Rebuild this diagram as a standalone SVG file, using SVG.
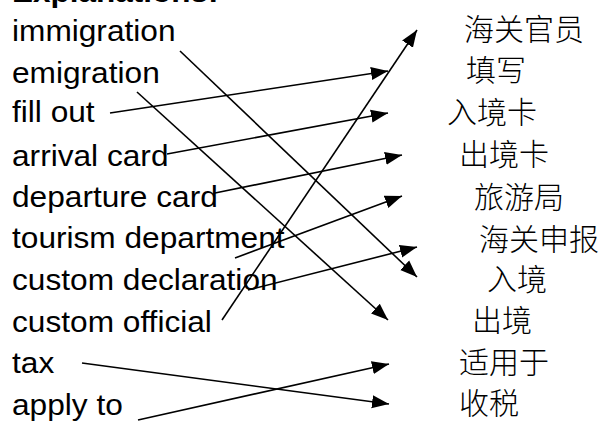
<svg xmlns="http://www.w3.org/2000/svg" width="608" height="421" viewBox="0 0 608 421">
<style>
.en{font-family:"Liberation Sans",Arial,sans-serif;font-size:30px;fill:#000}
.zh{font-family:"Noto Sans CJK SC",sans-serif;font-size:30px;font-weight:300;fill:#000}
.ttl{font-family:"Liberation Sans",Arial,sans-serif;font-size:30px;font-weight:bold;fill:#000}
.c line{stroke:#000;stroke-width:1.6;fill:none}
</style>
<defs>
<marker id="ah" markerUnits="userSpaceOnUse" markerWidth="18" markerHeight="14" refX="17" refY="7" orient="auto">
<path d="M0,0.5 L17,7 L0,13.5 z" fill="#000"/>
</marker>
</defs>
<rect width="608" height="421" fill="#fff"/>
<text class="ttl" x="12" y="2" transform="translate(12,0) scale(1.05,1) translate(-12,0)">Explanations:</text>
<g id="left" transform="translate(12,0) scale(1.055,1)">
<g id="n-immigration"><text class="en" x="0" y="41">immigration</text></g>
<g id="n-emigration"><text class="en" x="0" y="83">emigration</text></g>
<g id="n-fillout"><text class="en" x="0" y="122">fill out</text></g>
<g id="n-arrival"><text class="en" x="0" y="166">arrival card</text></g>
<g id="n-departure"><text class="en" x="0" y="207">departure card</text></g>
<g id="n-tourism"><text class="en" x="0" y="248">tourism department</text></g>
<g id="n-customdecl"><text class="en" x="0" y="290">custom declaration</text></g>
<g id="n-customoff"><text class="en" x="0" y="332">custom official</text></g>
<g id="n-tax"><text class="en" x="0" y="373">tax</text></g>
<g id="n-apply"><text class="en" x="0" y="415">apply to</text></g>
</g>
<g id="right">
<g id="z-haiguanguanyuan"><text class="zh" x="464" y="40">海关官员</text></g>
<g id="z-tianxie"><text class="zh" x="466" y="81">填写</text></g>
<g id="z-rujingka"><text class="zh" x="447" y="123">入境卡</text></g>
<g id="z-chujingka"><text class="zh" x="459" y="165">出境卡</text></g>
<g id="z-lvyouju"><text class="zh" x="474" y="208">旅游局</text></g>
<g id="z-haiguanshenbao"><text class="zh" x="479" y="250">海关申报</text></g>
<g id="z-rujing"><text class="zh" x="487" y="290">入境</text></g>
<g id="z-chujing"><text class="zh" x="472" y="331">出境</text></g>
<g id="z-shiyongyu"><text class="zh" x="459" y="373">适用于</text></g>
<g id="z-shoushui"><text class="zh" x="459" y="414">收税</text></g>
</g>
<g id="connectors" class="c">
<line x1="180" y1="51" x2="417" y2="277" marker-end="url(#ah)"/>
<line x1="137" y1="92" x2="388" y2="320" marker-end="url(#ah)"/>
<line x1="110" y1="113" x2="388" y2="71" marker-end="url(#ah)"/>
<line x1="167" y1="154" x2="388" y2="113" marker-end="url(#ah)"/>
<line x1="215" y1="193" x2="402" y2="155" marker-end="url(#ah)"/>
<line x1="235" y1="258" x2="402" y2="196" marker-end="url(#ah)"/>
<line x1="248" y1="290" x2="417" y2="247" marker-end="url(#ah)"/>
<line x1="222" y1="320" x2="417" y2="30" marker-end="url(#ah)"/>
<line x1="82" y1="363" x2="389" y2="404" marker-end="url(#ah)"/>
<line x1="138" y1="420" x2="389" y2="364" marker-end="url(#ah)"/>
</g>
</svg>
